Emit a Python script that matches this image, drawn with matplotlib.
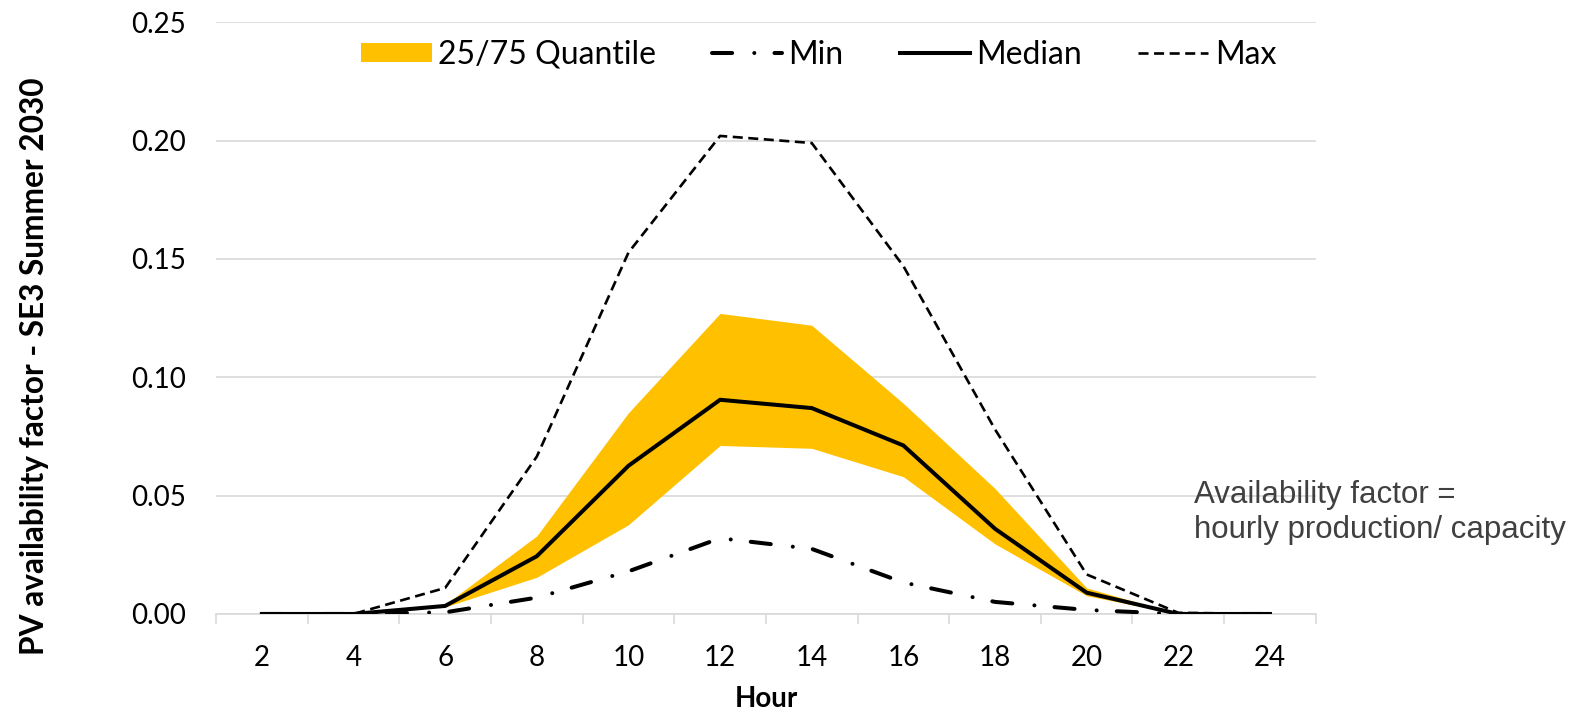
import numpy as np
import matplotlib.pyplot as plt
from matplotlib.patches import Patch
from matplotlib.lines import Line2D

# ------------------------------------------------------------------
#  data
# ------------------------------------------------------------------
hours = [2, 4, 6, 8, 10, 12, 14, 16, 18, 20, 22, 24]
q25 = [0.0, 0.0, 0.003, 0.0155, 0.0377, 0.0712, 0.0700, 0.0580, 0.0296, 0.0077, 0.0, 0.0]
q75 = [0.0, 0.0, 0.004, 0.0330, 0.0850, 0.1270, 0.1220, 0.0890, 0.0530, 0.0110, 0.0, 0.0]
v_min = [0.0, 0.0, 0.0007, 0.0069, 0.0180, 0.0320, 0.0275, 0.0133, 0.0051, 0.0017, 0.0, 0.0]
v_med = [0.0, 0.0, 0.0034, 0.0244, 0.0626, 0.0905, 0.0870, 0.0712, 0.0360, 0.0090, 0.0, 0.0]
v_max = [0.0, 0.0, 0.0110, 0.0665, 0.1527, 0.2020, 0.1990, 0.1470, 0.0780, 0.0167, 0.0005, 0.0]

yticks = [0.0, 0.05, 0.10, 0.15, 0.20, 0.25]
legend_labels = ["25/75 Quantile", "Min", "Median", "Max"]

FONT = ["Lato", "DejaVu Sans"]      # stand-in for Calibri
GOLD = "#FFC000"
GRID = "#D9D9D9"

MIN_STYLE = dict(color="black", lw=2.9, dashes=(5, 5.5, 0.01, 5), dash_capstyle="round")
MED_STYLE = dict(color="black", lw=2.9)
MAX_STYLE = dict(color="black", lw=1.9, dashes=(3.8, 2.1))

fig = plt.figure(figsize=(15.91, 7.15), dpi=100)
ax = fig.add_axes([0.1358, 0.1413, 0.827 - 0.1358, 0.9688 - 0.1413])

ax.fill_between(hours, q25, q75, color=GOLD, linewidth=0, zorder=2)
ax.plot(hours, v_min, zorder=3, **MIN_STYLE)
ax.plot(hours, v_med, zorder=4, **MED_STYLE)
ax.plot(hours, v_max, zorder=3, **MAX_STYLE)

ax.set_xlim(1, 25)
ax.set_ylim(0, 0.25)
ax.set_yticks(yticks)
ax.set_yticklabels([f"{v:.2f}" for v in yticks])
ax.set_xticks(hours)
ax.set_xticks(np.arange(1, 26, 2), minor=True)
ax.tick_params(axis="x", which="major", length=0, pad=22, labelsize=20)
ax.tick_params(axis="x", which="minor", length=7, width=1.2, color=GRID, direction="out")
ax.tick_params(axis="y", length=0, pad=22, labelsize=20)
for lab in ax.get_xticklabels() + ax.get_yticklabels():
    lab.set_family(FONT)

ax.grid(axis="y", color=GRID, lw=1.2, zorder=0)
ax.set_axisbelow(True)
for s in ["top", "right", "left"]:
    ax.spines[s].set_visible(False)
ax.spines["bottom"].set_color(GRID)
ax.spines["bottom"].set_linewidth(1.2)

ax.set_ylabel("PV availability factor - SE3 Summer 2030", family=FONT,
              fontweight="bold", fontsize=22.8)
ax.yaxis.set_label_coords(-0.152, 0.418)
ax.set_xlabel("Hour", family=FONT, fontweight="bold", fontsize=20, labelpad=11)

handles = [
    Patch(facecolor=GOLD, edgecolor="none"),
    Line2D([], [], **MIN_STYLE),
    Line2D([], [], **MED_STYLE),
    Line2D([], [], **MAX_STYLE),
]
ax.legend(handles, legend_labels, ncol=4, loc="center",
          bbox_to_anchor=(0.548, 0.945), frameon=False,
          prop={"family": FONT, "size": 23}, handlelength=2.2, handleheight=0.55,
          handletextpad=0.2, columnspacing=1.75, borderpad=0)

fig.text(0.7505, 0.283, "Availability factor =\nhourly production/ capacity",
         family="Liberation Sans", fontsize=22.5, color="#404040", va="center",
         ha="left", linespacing=1.2)

fig.savefig("out.png", dpi=100)
